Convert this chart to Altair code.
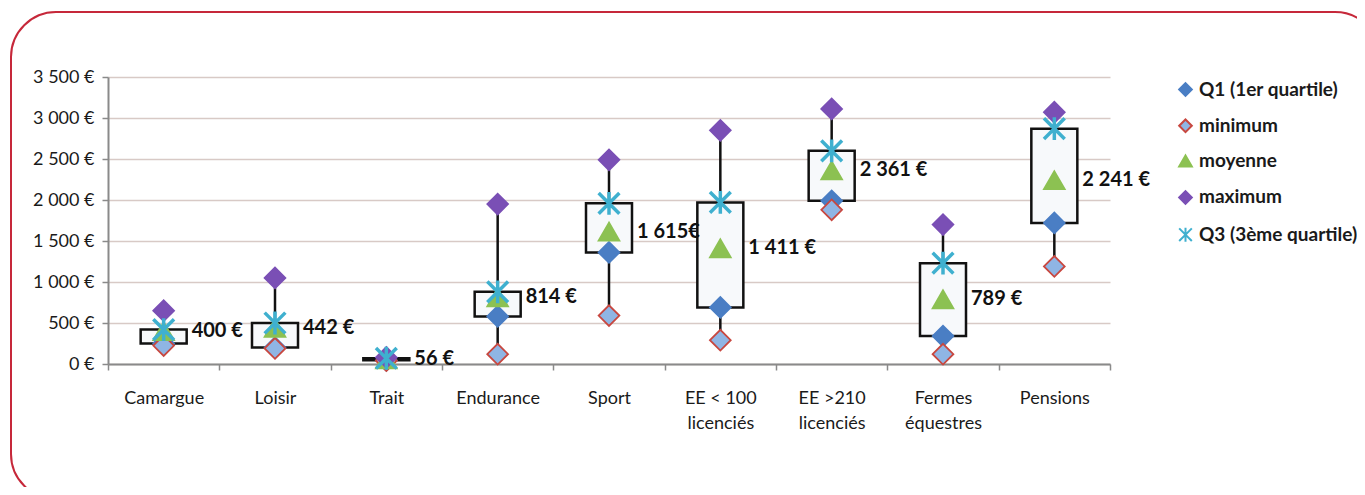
import altair as alt
import pandas as pd

categories = ["Camargue", "Loisir", "Trait", "Endurance", "Sport",
              "EE < 100 licenciés", "EE >210 licenciés", "Fermes équestres", "Pensions"]
label_lines = {
    "EE < 100 licenciés": ["EE < 100", "licenciés"],
    "EE >210 licenciés": ["EE >210", "licenciés"],
    "Fermes équestres": ["Fermes", "équestres"],
}
q1 = [250, 200, 45, 580, 1360, 690, 1990, 340, 1720]
minimum = [225, 190, 40, 120, 590, 290, 1880, 120, 1190]
moyenne = [400, 442, 56, 814, 1615, 1411, 2361, 789, 2241]
maximum = [650, 1050, 80, 1950, 2490, 2850, 3110, 1700, 3070]
q3 = [420, 500, 70, 880, 1960, 1970, 2600, 1230, 2870]
mean_labels = ["400 €", "442 €", "56 €", "814 €", "1 615€", "1 411 €", "2 361 €", "789 €", "2 241 €"]

series_names = ["Q1 (1er quartile)", "minimum", "moyenne", "maximum", "Q3 (3ème quartile)"]
series_values = [q1, minimum, moyenne, maximum, q3]
series_shapes = ["diamond", "diamond", "triangle-up", "diamond",
                 "M-1,-1L1,1M1,-1L-1,1M0,-1.1L0,1.1"]
series_fill = ["#4a7ec4", "#8fb5e4", "#8cc152", "#7a4fb5", "transparent"]
series_stroke = ["#4a7ec4", "#c8473f", "#8cc152", "#7a4fb5", "#3fb0cf"]

rows = []
for name, vals in zip(series_names, series_values):
    for c, v in zip(categories, vals):
        rows.append({"category": c, "series": name, "value": v})
points_df = pd.DataFrame(rows)

stats_df = pd.DataFrame({
    "category": categories, "q1": q1, "q3": q3, "min": minimum,
    "max": maximum, "mean": moyenne, "label": mean_labels,
})

FONT = "Lato"

x_expr = "datum.label"
for k, v in label_lines.items():
    x_expr = f"datum.label == '{k}' ? ['{v[0]}', '{v[1]}'] : " + x_expr

x_enc = alt.X(
    "category:N", sort=categories,
    scale=alt.Scale(type="band", domain=categories, paddingInner=0, paddingOuter=0),
    axis=alt.Axis(title=None, labelAngle=0, tickBand="extent", labelExpr=x_expr,
                  tickSize=6, tickColor="#8a8a8a", tickWidth=1.5,
                  domainColor="#8a8a8a", domainWidth=2, labelPadding=19,
                  labelFontSize=18, labelLineHeight=25, labelColor="#1a1a1a",
                  labelFont=FONT, grid=False),
)
y_scale = alt.Scale(domain=[0, 3500], nice=False)
y_axis = alt.Axis(title=None, values=list(range(0, 3501, 500)),
                  labelExpr="replace(format(datum.value, ',d'), ',', ' ') + ' €'",
                  tickSize=6, tickColor="#8a8a8a", tickWidth=1.5,
                  domainColor="#8a8a8a", domainWidth=2, labelPadding=8,
                  labelFontSize=18, labelColor="#1a1a1a", labelFont=FONT,
                  grid=True, gridColor="#d8cac6", gridWidth=1.5)

frame = alt.Chart(alt.Data(values=[{"f": 1}])).mark_rect(
    fill="transparent", stroke="#c6283a", strokeWidth=2, cornerRadius=45
).encode(x=alt.value(-97), x2=alt.value(1272), y=alt.value(-65), y2=alt.value(422))

whisker = alt.Chart(stats_df).mark_rule(color="#111111", strokeWidth=2.5).encode(
    x=x_enc, y=alt.Y("min:Q", scale=y_scale, axis=y_axis), y2="max:Q")

box = alt.Chart(stats_df).mark_bar(width=46, fill="#f7f9fb", stroke="#111111",
                                    strokeWidth=2.5).encode(
    x=x_enc, y=alt.Y("q1:Q", scale=y_scale), y2="q3:Q")

pts = alt.Chart(points_df).mark_point(filled=True, size=430, opacity=1).encode(
    x=x_enc,
    y=alt.Y("value:Q", scale=y_scale),
    shape=alt.Shape("series:N", scale=alt.Scale(domain=series_names, range=series_shapes),
                    legend=alt.Legend(title=None)),
    fill=alt.Fill("series:N", scale=alt.Scale(domain=series_names, range=series_fill),
                  legend=alt.Legend(title=None)),
    stroke=alt.Stroke("series:N", scale=alt.Scale(domain=series_names, range=series_stroke),
                      legend=alt.Legend(title=None)),
    strokeWidth=alt.condition("datum.series == 'Q3 (3ème quartile)'", alt.value(3.5), alt.value(1.8)),
)

labels = alt.Chart(stats_df).mark_text(
    align="left", baseline="middle", dx=28, fontSize=20, fontWeight="bold",
    font=FONT, color="#111111"
).encode(x=x_enc, y=alt.Y("mean:Q", scale=y_scale), text="label:N")

chart = alt.layer(frame, whisker, box, pts, labels).properties(
    width=1002, height=287,
    autosize=alt.AutoSizeParams(type="none"),
    padding={"left": 100, "top": 69, "right": 247, "bottom": 123},
).configure_view(stroke=None).configure_legend(
    orient="none", legendX=1068, legendY=3, symbolSize=160, symbolStrokeWidth=2,
    labelFontSize=19, labelFont=FONT, labelFontWeight="bold", labelColor="#1a1a1a",
    rowPadding=15.3, labelOffset=4, padding=0,
)

chart.save("out.html", embed_options={"renderer": "svg", "actions": False})
